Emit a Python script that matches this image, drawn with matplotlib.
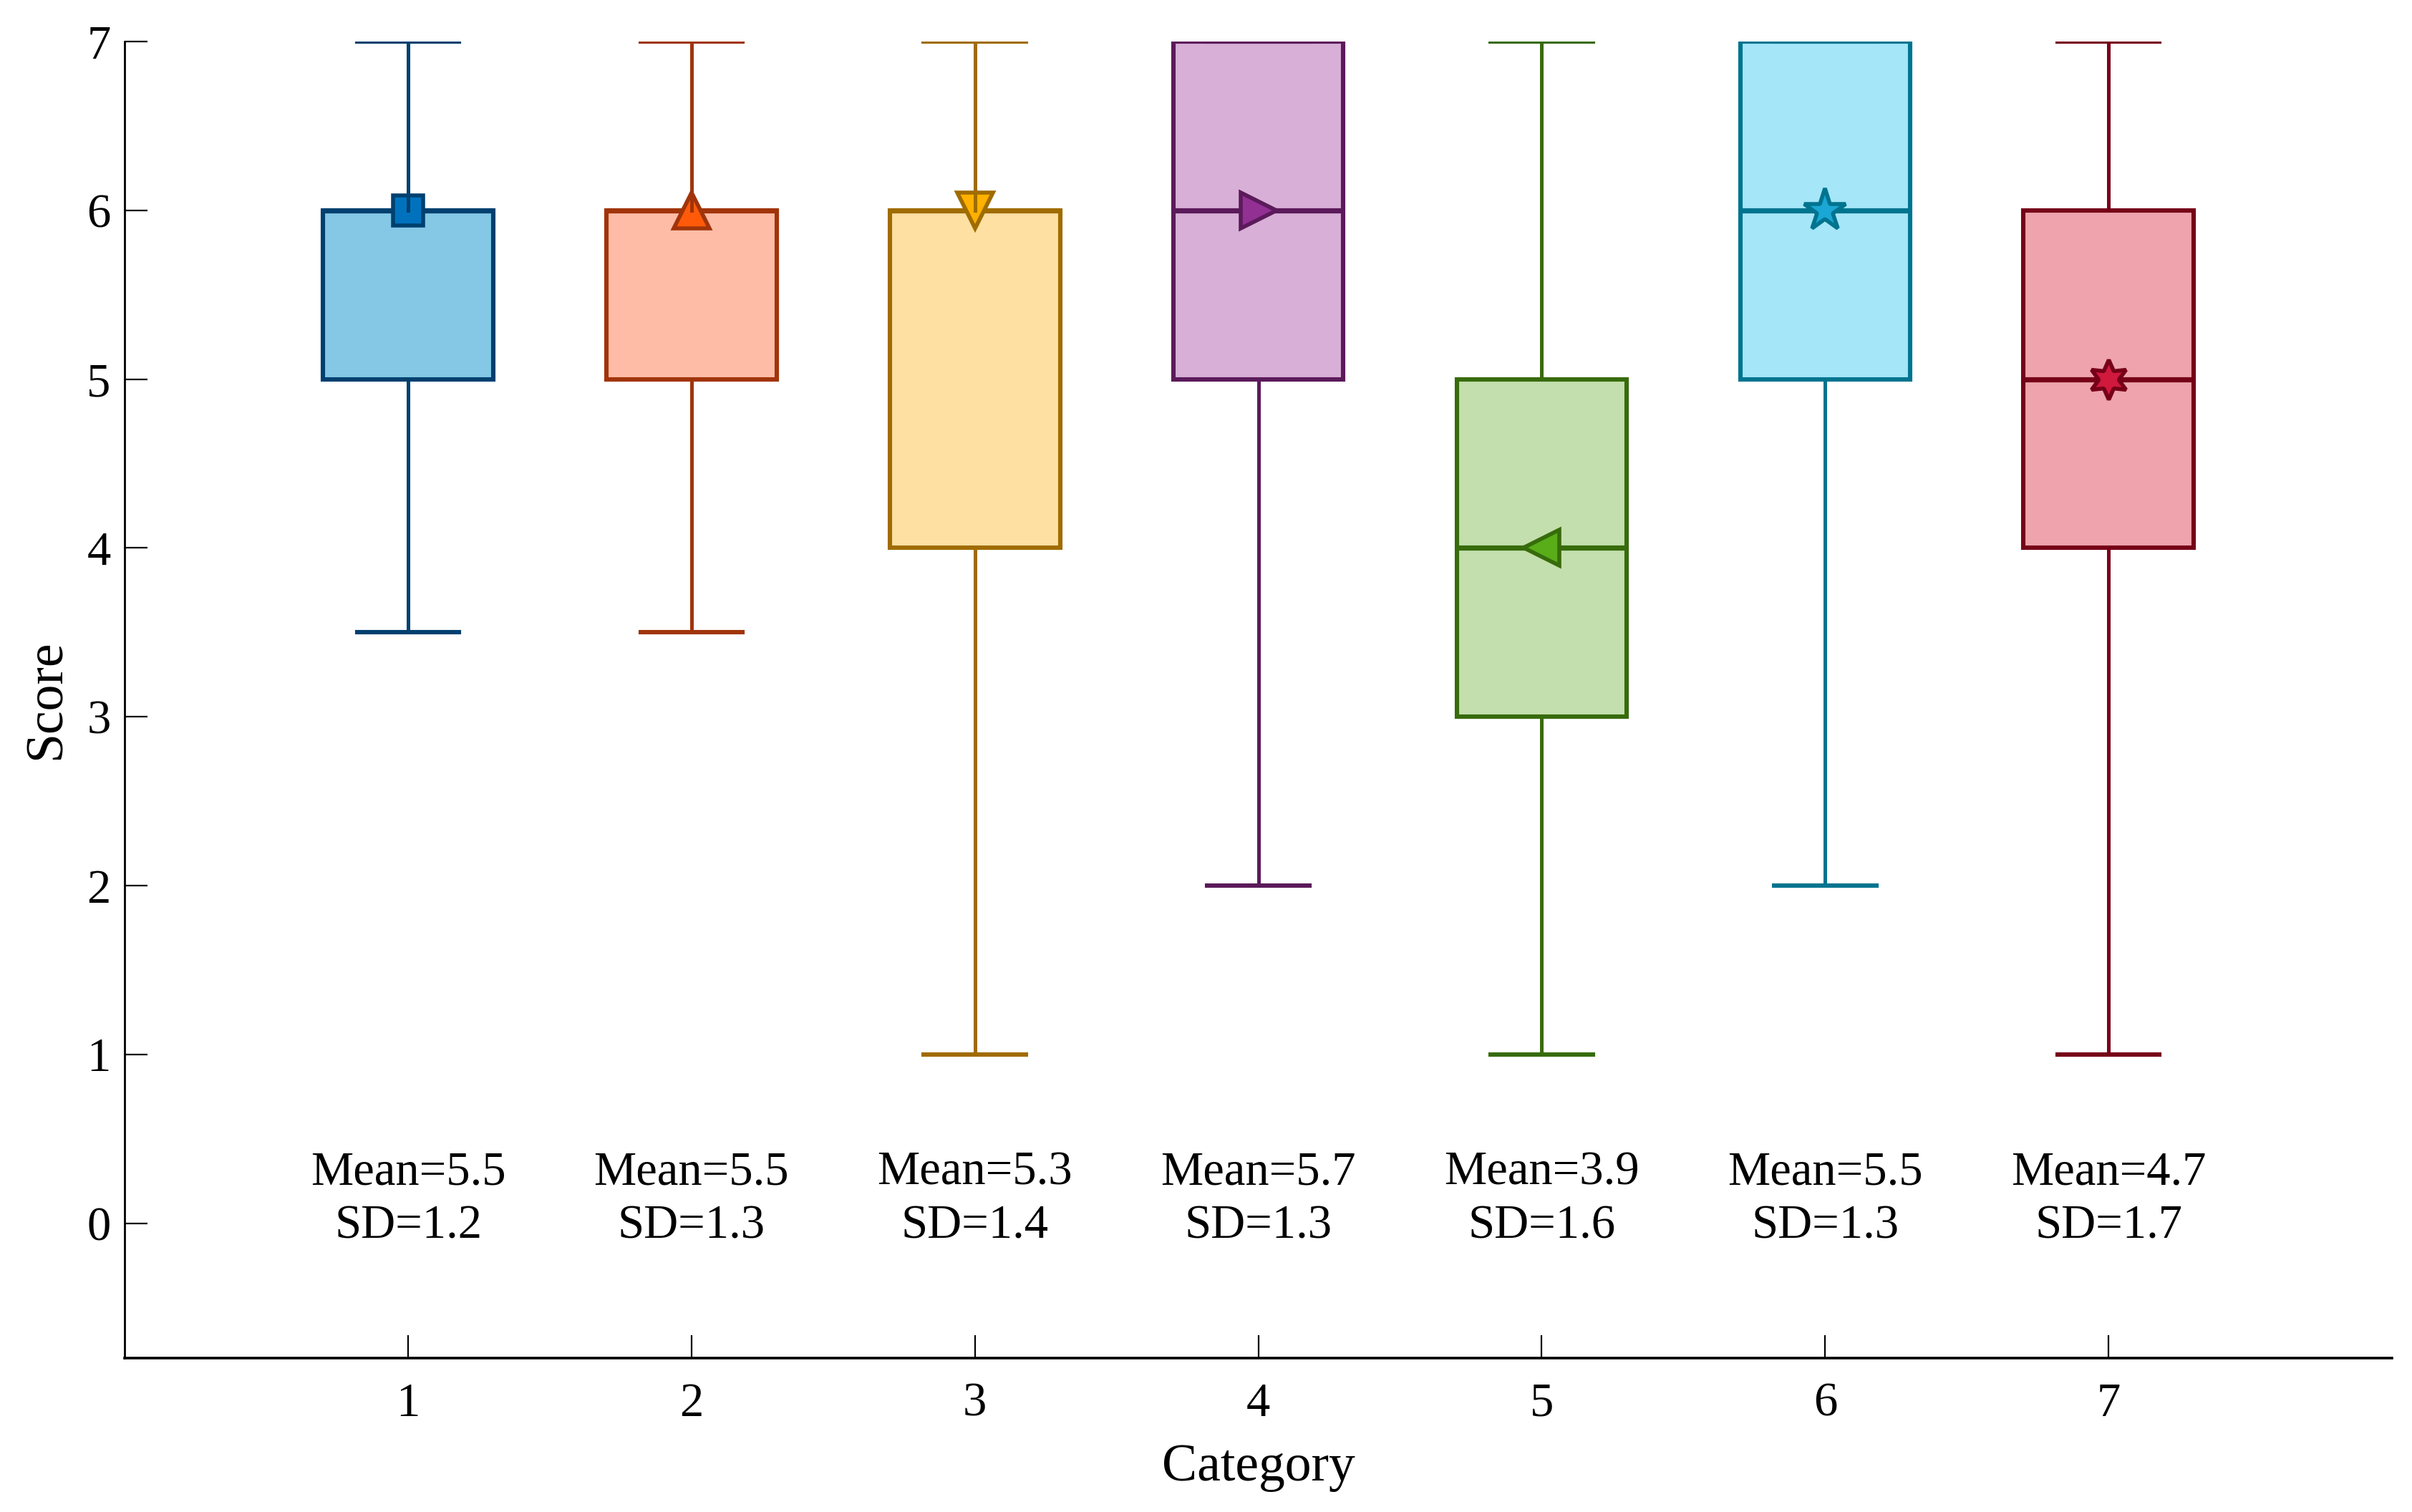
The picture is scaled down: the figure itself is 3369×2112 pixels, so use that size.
import matplotlib
matplotlib.use("Agg")
import matplotlib.pyplot as plt

# ── 데이터 ────────────────────────────────────────────────────────────────────
categories = [1, 2, 3, 4, 5, 6, 7]
whis_lo = [3.5, 3.5, 1, 2, 1, 2, 1]
q1 = [5, 5, 4, 5, 3, 5, 4]
medians = [6, 6, 6, 6, 4, 6, 5]
q3 = [6, 6, 6, 7, 5, 7, 6]
whis_hi = [7, 7, 7, 7, 7, 7, 7]
means = [5.5, 5.5, 5.3, 5.7, 3.9, 5.5, 4.7]
sds = [1.2, 1.3, 1.4, 1.3, 1.6, 1.3, 1.7]

# ── 스타일 ────────────────────────────────────────────────────────────────────
edge_colors = ["#00406f", "#a1340a", "#a06c00", "#5b1a5a", "#376b0b", "#00748f", "#760018"]
face_colors = ["#84c8e6", "#febca6", "#fde0a2", "#d8afd6", "#c3dfad", "#a5e6f8", "#eea3ad"]
marker_faces = ["#0072bd", "#ff5a0a", "#ffb000", "#923094", "#58ad18", "#1aa7d5", "#d0193d"]
markers = ["s", "^", "v", ">", "<", "*", (6, 1, 0)]
marker_sizes = [15, 18, 18, 18, 18, 22, 20]

plt.rcParams["font.family"] = ["Liberation Serif", "DejaVu Serif"]
plt.rcParams["mathtext.fontset"] = "stix"

fig = plt.figure(figsize=(16.845, 10.56), dpi=200)
ax = fig.add_axes([0.0517, 0.1017, 0.94, 0.8708])

for i, x in enumerate(categories):
    stats = [dict(whislo=whis_lo[i], q1=q1[i], med=medians[i], q3=q3[i],
                  whishi=whis_hi[i], fliers=[])]
    ec = edge_colors[i]
    ax.bxp(
        stats,
        positions=[x],
        widths=0.6,
        capwidths=[0.36],
        patch_artist=True,
        showfliers=False,
        manage_ticks=False,
        boxprops=dict(facecolor=face_colors[i], edgecolor=ec, linewidth=2.2, zorder=2),
        whiskerprops=dict(color=ec, linewidth=1.8, zorder=5),
        capprops=dict(color=ec, linewidth=2.2, zorder=5),
        medianprops=dict(color=ec, linewidth=2.6, zorder=3),
    )
    ax.plot([x], [medians[i]], linestyle="none", marker=markers[i],
            markersize=marker_sizes[i], markerfacecolor=marker_faces[i],
            markeredgecolor=ec, markeredgewidth=2.0, zorder=4)

    ax.text(x, 0.23, f"Mean={means[i]}", ha="center", va="baseline", fontsize=24)
    ax.text(x, -0.09, f"SD={sds[i]}", ha="center", va="baseline", fontsize=24)

# ── 축 ────────────────────────────────────────────────────────────────────────
ax.set_xlim(0, 8)
ax.set_ylim(-0.8, 7)
ax.set_xticks(categories)
ax.set_yticks(range(0, 8))
ax.set_xlabel("Category", fontsize=26.5, labelpad=9)
ax.set_ylabel("Score", fontsize=26.5, labelpad=8)

ax.spines["top"].set_visible(False)
ax.spines["right"].set_visible(False)
ax.spines["left"].set_linewidth(1.0)
ax.spines["bottom"].set_linewidth(1.3)
ax.tick_params(axis="both", direction="in", length=11.5, width=0.8, labelsize=24)
ax.tick_params(axis="x", pad=12)
ax.tick_params(axis="y", pad=7)

fig.savefig("out.png", dpi=200)
